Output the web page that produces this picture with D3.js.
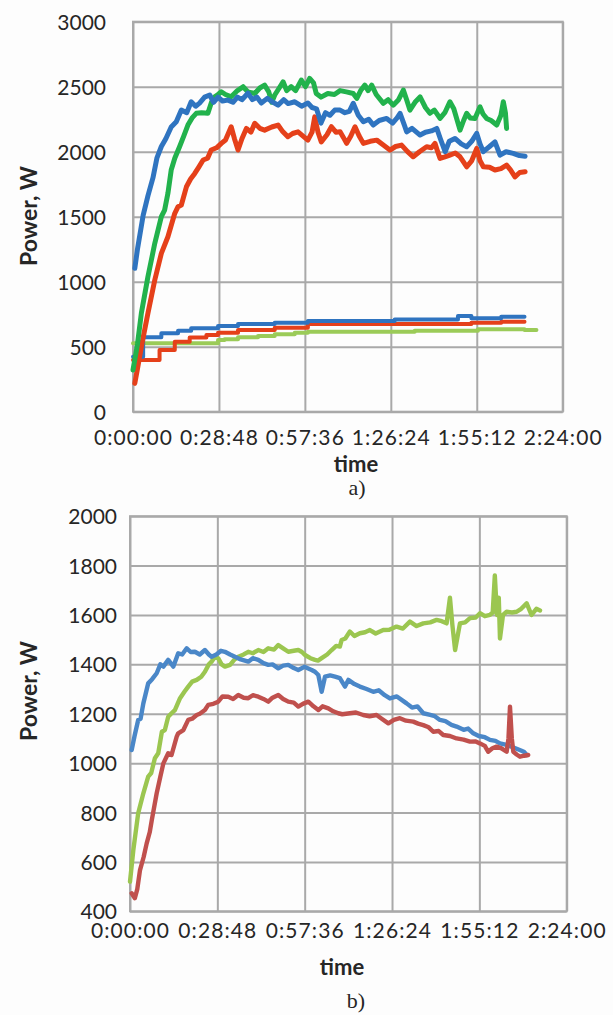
<!DOCTYPE html>
<html>
<head>
<meta charset="utf-8">
<script src="https://cdn.jsdelivr.net/npm/d3@7"></script>
<style>
  html, body { margin: 0; padding: 0; background: #fdfdfd; }
  svg { display: block; }
</style>
</head>
<body>
<svg id="chart" width="613" height="1015"></svg>
<script>
// Time in minutes, power in watts: each series is a list of [minutes, watts].

// ---- Panel a) ----
const timeTicksA = [0, 28.8, 57.6, 86.4, 115.2, 144];
const powerTicksA = [0, 500, 1000, 1500, 2000, 2500, 3000];

const blueHighA = [[0.6,1103],[1.5,1250],[3.4,1510],[5,1660],[6.7,1800],[8,1950],[9.5,2040],[11,2100],[12.8,2190],[14.5,2230],[16.2,2320],[18,2300],[19.5,2384],[21,2350],[22.3,2374],[24,2420],[25.7,2436],[27,2380],[28.5,2420],[30,2390],[31.8,2397],[33.5,2380],[35,2420],[36.5,2400],[38.5,2450],[40,2400],[41.5,2420],[43,2374],[45,2410],[47,2380],[48.6,2358],[50.5,2400],[52,2370],[54.2,2384],[56.5,2350],[58.6,2374],[60,2340],[61.5,2330],[63,2220],[64.5,2300],[66,2280],[67.6,2320],[69.4,2320],[71,2300],[72.5,2310],[73.8,2372],[75.5,2280],[77.2,2230],[79,2250],[80.5,2205],[82.5,2240],[85,2256],[87,2220],[88.5,2260],[89.5,2295],[91,2200],[91.7,2153],[93.5,2180],[96.2,2128],[98,2150],[100,2160],[101.8,2179],[103,2100],[104.6,2000],[106,2080],[107.9,2102],[110,2060],[111.8,2038],[113.5,2080],[115.2,2141],[116.3,2060],[117.4,2000],[119.5,2040],[121.3,2076],[123,1974],[125,2000],[127.4,1987],[129.5,1970],[131.4,1965]];

const greenHighA = [[0,321],[1.5,520],[2.8,757],[5,1038],[7.3,1295],[9.5,1500],[10.6,1551],[11.7,1680],[12.8,1859],[14,1950],[15.6,2038],[17,2120],[18.4,2205],[19.8,2260],[21.2,2295],[23,2300],[25.1,2295],[26.3,2380],[27.4,2422],[28.5,2440],[29.6,2461],[31,2440],[32.9,2422],[35,2470],[36.9,2500],[38.5,2460],[40.8,2448],[42.5,2490],[44.1,2512],[45.5,2460],[46.5,2380],[47.5,2436],[49,2490],[50.3,2538],[51.5,2470],[53,2500],[54.5,2470],[56.4,2551],[57.8,2500],[59.2,2564],[60.5,2530],[61.4,2448],[63,2420],[65.3,2448],[67.5,2440],[69.4,2470],[71.5,2460],[73.8,2448],[75,2410],[76.3,2470],[77.7,2512],[78.8,2470],[80,2512],[81.5,2440],[83.9,2372],[85.5,2400],[87.2,2358],[89,2400],[90.6,2474],[91.7,2400],[92.8,2320],[94.5,2380],[96.2,2422],[98,2340],[99.5,2295],[101,2320],[102.9,2256],[104.5,2300],[106.2,2384],[107.5,2330],[109.6,2166],[110.8,2240],[111.8,2295],[113,2260],[114.6,2256],[116.3,2345],[117.3,2290],[118.5,2256],[120,2240],[121.9,2205],[123.3,2280],[124.1,2384],[124.8,2300],[125.2,2179]];

const redHighA = [[0.6,218],[1.5,330],[2.8,500],[5,757],[7.3,1013],[9.5,1218],[11.7,1346],[14,1526],[15.1,1577],[16.2,1590],[17.9,1730],[19.3,1790],[20.7,1833],[22,1880],[23.5,1936],[25,1950],[26.2,2013],[28,2030],[29.6,2064],[31,2090],[32.9,2192],[34,2100],[35.2,2013],[36.5,2100],[38,2179],[39.5,2150],[40.8,2218],[42.5,2180],[44.1,2166],[46.5,2190],[48.6,2205],[50,2160],[51.9,2115],[53.5,2140],[55.3,2153],[57,2120],[58.6,2089],[60,2150],[60.9,2268],[62,2150],[63.1,2076],[65,2130],[66.5,2192],[68,2150],[69.4,2153],[70.5,2110],[71.6,2064],[73,2120],[74.4,2192],[75.8,2120],[77.2,2064],[79.5,2080],[81.7,2089],[84,2050],[86.1,2013],[88,2040],[90,2051],[92,2000],[93.9,1961],[96,2000],[98.4,2038],[100,2030],[101.2,2064],[102.1,2000],[102.9,1948],[104.5,1960],[106.2,1974],[108,1990],[109.6,1961],[110.8,1920],[111.8,1884],[113.5,1930],[115.2,2025],[116.3,1930],[117.4,1884],[119.5,1880],[121.3,1859],[123.3,1870],[125.2,1897],[126.5,1860],[128,1807],[129.6,1840],[131.4,1846]];

const blueLowA = [[0,423],[3.4,572],[9.5,603],[15.1,623],[19.5,641],[28.5,659],[35.2,674],[47.5,684],[58.6,697],[87.7,710],[108.9,736],[113.4,718],[123.4,731],[131.2,731]];
const redLowA = [[0,398],[8.9,474],[14,538],[19,570],[24.6,590],[28.5,607],[35.2,628],[47.5,646],[58.6,674],[113.4,684],[123.4,692],[131.2,692]];
const limeLowA = [[0,526],[28.5,551],[30.7,557],[35.2,572],[41.9,582],[47.5,595],[54.2,607],[58.6,615],[94.4,623],[115.6,634],[131.2,628],[135.2,628]];

// ---- Panel b) ----
const timeTicksB = [0, 28.8, 57.6, 86.4, 115.2, 144];
const powerTicksB = [400, 600, 800, 1000, 1200, 1400, 1600, 1800, 2000];

const blueB = [[0.55,1053],[1.5,1110],[2.7,1175],[3.5,1180],[4.4,1242],[6,1323],[7.3,1340],[8.8,1364],[10,1400],[11,1391],[12.6,1418],[14.3,1391],[15.9,1445],[17.2,1440],[18.7,1465],[20,1450],[21.4,1451],[23,1440],[24.7,1458],[26,1440],[26.9,1431],[28.5,1440],[30,1455],[31.3,1451],[33,1440],[34.6,1431],[36.5,1420],[39,1411],[40.5,1425],[42.3,1418],[44,1405],[45.6,1398],[47,1400],[48.9,1384],[50.5,1395],[52.2,1398],[54,1385],[55.5,1377],[57.5,1390],[59.9,1377],[61,1370],[62.1,1357],[63.2,1289],[64.3,1350],[66,1355],[67.6,1350],[69.2,1344],[70.9,1310],[72,1337],[74,1320],[75.8,1310],[78,1300],[80.2,1289],[82,1295],[84,1275],[85.7,1262],[88,1270],[91.2,1242],[93,1225],[94.8,1230],[96.7,1202],[99,1195],[100.5,1190],[102.2,1175],[104,1170],[106,1155],[107.7,1148],[110,1135],[111.5,1140],[113.2,1121],[115,1110],[117,1105],[118.7,1094],[120.5,1090],[122,1080],[124.2,1074],[126,1065],[127.5,1058],[129.1,1050],[130,1045],[130.8,1033]];

const limeB = [[0,520],[1.1,648],[2.7,797],[4.4,878],[6,945],[7,960],[8.2,1020],[9.3,1040],[10.5,1127],[11.5,1134],[12.6,1188],[13.7,1202],[14.8,1215],[16.5,1263],[18,1290],[19.2,1310],[20.5,1330],[22,1337],[23.5,1350],[24.7,1370],[26,1400],[26.9,1411],[28,1430],[29.1,1425],[30.2,1400],[31.3,1391],[33,1398],[34.5,1420],[35.7,1431],[37.5,1440],[39,1451],[40.5,1445],[42.3,1458],[44,1450],[45.6,1465],[47.5,1460],[48.9,1478],[50.5,1465],[52.2,1451],[54,1455],[55.5,1458],[56.7,1450],[57.7,1438],[59.5,1425],[61,1418],[62,1415],[63.2,1425],[65,1440],[66.5,1458],[68,1475],[69.2,1472],[69.8,1499],[71,1505],[72.5,1533],[74,1515],[75.8,1526],[77.5,1530],[79.1,1539],[81,1525],[83.5,1539],[85.5,1540],[87.9,1553],[90,1545],[92.3,1573],[94.5,1555],[96.7,1566],[99,1570],[101.1,1580],[102.8,1575],[104.4,1566],[105.5,1670],[106.3,1560],[107.2,1458],[108.8,1566],[110.5,1570],[112.1,1587],[114,1590],[115.4,1607],[117,1595],[118.7,1600],[119.6,1610],[120.3,1760],[121,1600],[121.6,1670],[122,1505],[123,1600],[124.2,1613],[126,1610],[127.5,1613],[129,1625],[130.8,1647],[132.4,1600],[134,1625],[135.2,1618]];

const redB = [[0.55,473],[1.6,453],[2.4,490],[3.3,567],[4.5,620],[5.5,675],[6.5,720],[7.2,770],[8.8,878],[10,945],[11,999],[12.6,1040],[13.7,1033],[15.4,1107],[15.9,1121],[17.6,1134],[19.2,1175],[20.5,1180],[22,1195],[23,1200],[24.7,1215],[25.8,1236],[27.5,1240],[29.1,1249],[30.5,1270],[32.4,1269],[34,1260],[35.7,1276],[37.5,1265],[39,1263],[40.5,1275],[42.3,1269],[44,1260],[45.6,1249],[47,1265],[48.9,1276],[50.5,1260],[52.2,1249],[54,1245],[55.5,1229],[57,1240],[58.8,1249],[60.5,1230],[62.1,1215],[63.5,1230],[65.4,1222],[67,1210],[68.7,1202],[70,1198],[72.5,1202],[74.5,1205],[76.9,1195],[79,1190],[81.3,1195],[83,1180],[85.2,1161],[87,1175],[89,1182],[91,1172],[93.4,1168],[95,1160],[96.7,1154],[98.5,1145],[100,1127],[101.8,1130],[103.3,1114],[105.5,1110],[107.7,1100],[110,1095],[112.1,1087],[114,1088],[115.4,1080],[117,1070],[118.1,1046],[119.5,1060],[120.9,1067],[122.5,1060],[124.2,1046],[124.8,1100],[125.3,1229],[125.9,1100],[126.4,1046],[127.5,1035],[128.6,1026],[130,1030],[131.3,1033]];

// ---- drawing ----
const svg = d3.select("#chart");
const GRID = "#a9a9a9";
const TEXT = "#262626";
const SANS = "Lato, 'Open Sans', sans-serif";

function hms(m) {
  const s = Math.round(m * 60);
  const h = Math.floor(s / 3600), mm = Math.floor((s % 3600) / 60), ss = s % 60;
  return h + ":" + String(mm).padStart(2, "0") + ":" + String(ss).padStart(2, "0");
}

function panel(cfg) {
  const { left, right, top, bottom, yDomain, yTicks, xTicks, yPad, xPad } = cfg;
  const x = d3.scaleLinear().domain([0, 144]).range([left, right]);
  const y = d3.scaleLinear().domain(yDomain).range([bottom, top]);
  const g = svg.append("g");

  // horizontal gridlines + power labels
  const ya = g.append("g").attr("transform", `translate(${left},0)`)
    .call(d3.axisLeft(y).tickValues(yTicks).tickSize(-(right - left)).tickPadding(yPad).tickFormat(d3.format("d")));
  // vertical gridlines + time labels
  const xa = g.append("g").attr("transform", `translate(0,${bottom})`)
    .call(d3.axisBottom(x).tickValues(xTicks).tickSize(-(bottom - top)).tickPadding(xPad).tickFormat(hms));
  [ya, xa].forEach(a => {
    a.select(".domain").remove();
    a.selectAll("line").attr("stroke", GRID).attr("stroke-width", 2);
    a.selectAll("text").attr("fill", TEXT).attr("font-family", SANS).attr("font-size", 21);
  });
  ya.selectAll("text").attr("dy", "0.36em");
  xa.selectAll("text").attr("letter-spacing", 1.1);

  g.append("rect").attr("x", left).attr("y", top)
    .attr("width", right - left).attr("height", bottom - top)
    .attr("fill", "none").attr("stroke", GRID).attr("stroke-width", 2);

  return { x, y, g };
}

function drawLine(p, data, color, width, curve) {
  p.g.append("path").datum(data)
    .attr("fill", "none").attr("stroke", color).attr("stroke-width", width)
    .attr("stroke-linejoin", "round").attr("stroke-linecap", "round")
    .attr("d", d3.line().x(d => p.x(d[0])).y(d => p.y(d[1])).curve(curve));
}

function label(txt, x, y, opts) {
  const t = svg.append("text").text(txt)
    .attr("x", x).attr("y", y).attr("text-anchor", "middle")
    .attr("fill", TEXT)
    .attr("font-family", opts.family || SANS)
    .attr("font-size", opts.size)
    .attr("font-weight", opts.weight || "normal");
  if (opts.rotate) t.attr("transform", `rotate(-90,${x},${y})`);
  return t;
}

// Panel a)
const pA = panel({ left: 133, right: 562.7, top: 21.7, bottom: 411.7,
  yDomain: [0, 3000], yTicks: powerTicksA, xTicks: timeTicksA, yPad: 27, xPad: 18 });
drawLine(pA, limeLowA, "#9bcb58", 4, d3.curveStepAfter);
drawLine(pA, redLowA, "#e5401a", 4, d3.curveStepAfter);
drawLine(pA, blueLowA, "#2f74c0", 4, d3.curveStepAfter);
drawLine(pA, redHighA, "#e5401a", 5, d3.curveLinear);
drawLine(pA, greenHighA, "#22b24c", 5, d3.curveLinear);
drawLine(pA, blueHighA, "#2f74c0", 5, d3.curveLinear);

label("Power, W", 37, 216, { size: 23, weight: "bold", rotate: true });
label("time", 356, 472, { size: 22, weight: "bold" });
label("a)", 357, 495, { size: 22, family: "'Liberation Serif', 'Times New Roman', serif" });

// Panel b)
const pB = panel({ left: 130, right: 566.7, top: 516.2, bottom: 911.3,
  yDomain: [400, 2000], yTicks: powerTicksB, xTicks: timeTicksB, yPad: 13, xPad: 12 });
drawLine(pB, limeB, "#9bc650", 4.4, d3.curveLinear);
drawLine(pB, blueB, "#4a87c8", 4.4, d3.curveLinear);
drawLine(pB, redB, "#c0504d", 4.4, d3.curveLinear);

label("Power, W", 37, 691, { size: 23, weight: "bold", rotate: true });
label("time", 342, 975, { size: 22, weight: "bold" });
label("b)", 356, 1008, { size: 22, family: "'Liberation Serif', 'Times New Roman', serif" });
</script>
</body>
</html>
